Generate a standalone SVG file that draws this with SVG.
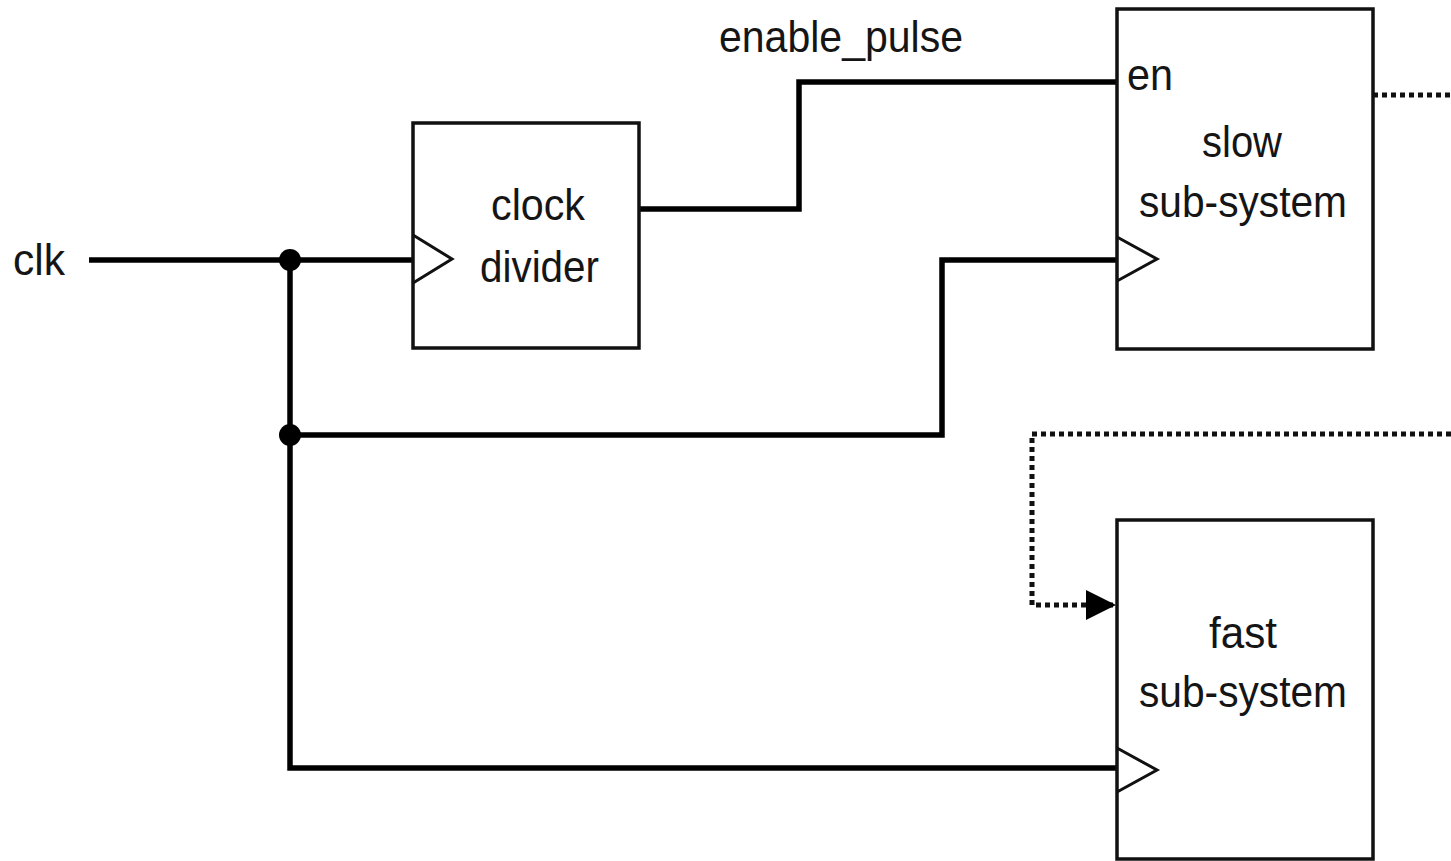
<svg xmlns="http://www.w3.org/2000/svg" width="1451" height="861" viewBox="0 0 1451 861">
  <style>
    .box { fill: #ffffff; stroke: #111111; stroke-width: 3.5; }
    .clk { fill: none; stroke: #111111; stroke-width: 3; }
    .wire { fill: none; stroke: #000000; stroke-width: 5.5; stroke-linejoin: miter; stroke-linecap: butt; }
    .dot { fill: none; stroke: #111111; stroke-width: 5; stroke-dasharray: 5 4; }
    .t { font-family: "Liberation Sans", Arial, sans-serif; font-size: 45px; fill: #151515; }
  </style>
  <defs>
    <marker id="arr" markerUnits="userSpaceOnUse" markerWidth="32" markerHeight="32" refX="30" refY="15" orient="auto">
      <path d="M0,0 L30,15 L0,30 Z" fill="#000000"/>
    </marker>
  </defs>
  <rect width="1451" height="861" fill="#ffffff"/>

  <g id="connectors">
    <polyline class="wire" points="89,260 413,260"/>
    <polyline class="wire" points="290,260 290,768 1117,768"/>
    <polyline class="wire" points="290,435 942,435 942,260 1117,260"/>
    <polyline class="wire" points="639,209 799,209 799,82 1117,82"/>
    <polyline class="dot" points="1373,95 1451,95"/>
    <polyline class="dot" points="1451,434 1032,434 1032,605 1116,605" marker-end="url(#arr)"/>
    <circle cx="290" cy="260" r="11" fill="#000000"/>
    <circle cx="290" cy="435" r="11" fill="#000000"/>
  </g>

  <g id="clk-label">
    <text class="t" x="13" y="275" textLength="52" lengthAdjust="spacingAndGlyphs">clk</text>
  </g>
  <g id="enable-pulse-label">
    <text class="t" x="719" y="52" textLength="244" lengthAdjust="spacingAndGlyphs">enable_pulse</text>
  </g>

  <g id="clock-divider">
    <rect class="box" x="413" y="123" width="226" height="225"/>
    <polyline class="clk" points="413,235 452,259 413,283"/>
    <text class="t" x="491" y="220" textLength="94" lengthAdjust="spacingAndGlyphs">clock</text>
    <text class="t" x="480" y="282" textLength="119" lengthAdjust="spacingAndGlyphs">divider</text>
  </g>

  <g id="slow-sub-system">
    <rect class="box" x="1117" y="9" width="256" height="340"/>
    <polyline class="clk" points="1117,237 1157,259 1117,281"/>
    <text class="t" x="1127" y="90" textLength="46" lengthAdjust="spacingAndGlyphs">en</text>
    <text class="t" x="1202" y="157" textLength="80" lengthAdjust="spacingAndGlyphs">slow</text>
    <text class="t" x="1139" y="217" textLength="208" lengthAdjust="spacingAndGlyphs">sub-system</text>
  </g>

  <g id="fast-sub-system">
    <rect class="box" x="1117" y="520" width="256" height="339"/>
    <polyline class="clk" points="1117,748 1157,770 1117,792"/>
    <text class="t" x="1209" y="648" textLength="68" lengthAdjust="spacingAndGlyphs">fast</text>
    <text class="t" x="1139" y="707" textLength="208" lengthAdjust="spacingAndGlyphs">sub-system</text>
  </g>
</svg>
